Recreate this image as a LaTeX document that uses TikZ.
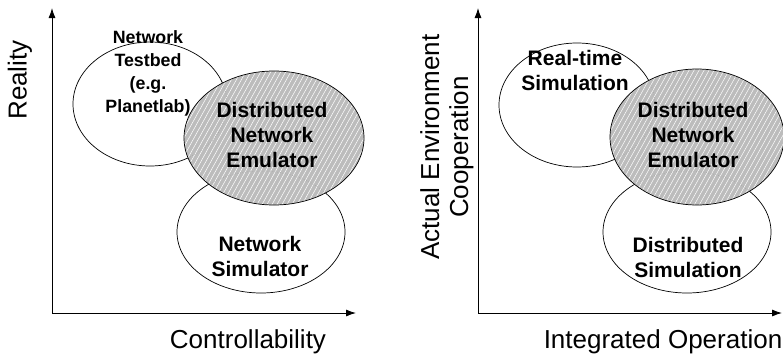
\documentclass[tikz,border=0pt]{standalone}
\usepackage{fontspec}
\setmainfont{Liberation Sans}
\usetikzlibrary{arrows.meta,shapes.geometric}
\definecolor{hatchgray}{RGB}{188,188,188}
\begin{document}
\begin{tikzpicture}[x=1pt,y=-1pt,
  axis/.style={line width=0.9pt,-{Latex[length=10pt,width=7pt]}},
  blob/.style={ellipse,draw,line width=0.7pt,fill=white,inner sep=0pt},
  big/.style={font=\bfseries\fontsize{21}{25}\selectfont,align=center},
  small/.style={font=\bfseries\fontsize{17.8}{23}\selectfont,align=center},
  axlabel/.style={font=\fontsize{26}{29}\selectfont,align=center},
  hidden/.style={draw=gray!80,dotted,line width=0.5pt}]
\useasboundingbox (0,0) rectangle (783,356);

% ---------- left panel ----------
\coordinate (o1) at (52,313);
\coordinate (y1) at (52,8);
\coordinate (x1) at (356,313);
\draw[axis] (o1) -- (y1);
\draw[axis] (o1) -- (x1);

\node[blob,minimum width=154pt,minimum height=124pt] (tb) at (150,104) {};
\node[blob,minimum width=168pt,minimum height=122pt] (ns) at (261,232) {};
\begin{scope}
  \clip (274,138) ellipse [x radius=90pt, y radius=67pt];
  \fill[hatchgray] (184,70) rectangle (364,206);
  \foreach \k in {-30,...,30}
    \draw[white,line width=0.5pt] ({274+\k*5-40},{138+72}) -- ({274+\k*5+40},{138-72});
  \draw[hidden] (150,104) ellipse [x radius=77pt, y radius=62pt];
  \draw[hidden] (261,232) ellipse [x radius=84pt, y radius=61pt];
\end{scope}
\node[ellipse,draw,line width=0.7pt,minimum width=180pt,minimum height=134pt,inner sep=0pt] (dne1) at (274,138) {};

\node[small] (tbt) at (148,73) {Network\\Testbed\\(e.g.\\Planetlab)};
\node[big] (dne1t) at (272,135) {Distributed\\Network\\Emulator};
\node[big] (nst) at (260,256) {Network\\Simulator};
\node[axlabel,rotate=90] (ylab1) at (20,80) {Reality};
\node[axlabel] (xlab1) at (248,342) {Controllability};

% ---------- right panel ----------
\coordinate (o2) at (478,313);
\coordinate (y2) at (478,8);
\coordinate (x2) at (782,313);
\draw[axis] (o2) -- (y2);
\draw[axis] (o2) -- (x2);

\node[blob,minimum width=156pt,minimum height=124pt] (rt) at (577,105) {};
\node[blob,minimum width=168pt,minimum height=122pt] (ds) at (687,232) {};
\begin{scope}
  \clip (697,137) ellipse [x radius=87pt, y radius=68pt];
  \fill[hatchgray] (608,67) rectangle (786,207);
  \foreach \k in {-30,...,30}
    \draw[white,line width=0.5pt] ({697+\k*5-40},{137+72}) -- ({697+\k*5+40},{137-72});
  \draw[hidden] (577,105) ellipse [x radius=78pt, y radius=62pt];
  \draw[hidden] (687,232) ellipse [x radius=84pt, y radius=61pt];
\end{scope}
\node[ellipse,draw,line width=0.7pt,minimum width=174pt,minimum height=136pt,inner sep=0pt] (dne2) at (697,137) {};

\node[big] (rtt) at (575,70) {Real-time\\Simulation};
\node[big] (dne2t) at (693,135) {Distributed\\Network\\Emulator};
\node[big] (dst) at (688,257) {Distributed\\Simulation};
\node[axlabel,rotate=90] (ylab2) at (447,147) {Actual Environment\\Cooperation};
\node[axlabel] (xlab2) at (663,342) {Integrated Operation};
\end{tikzpicture}
\end{document}
